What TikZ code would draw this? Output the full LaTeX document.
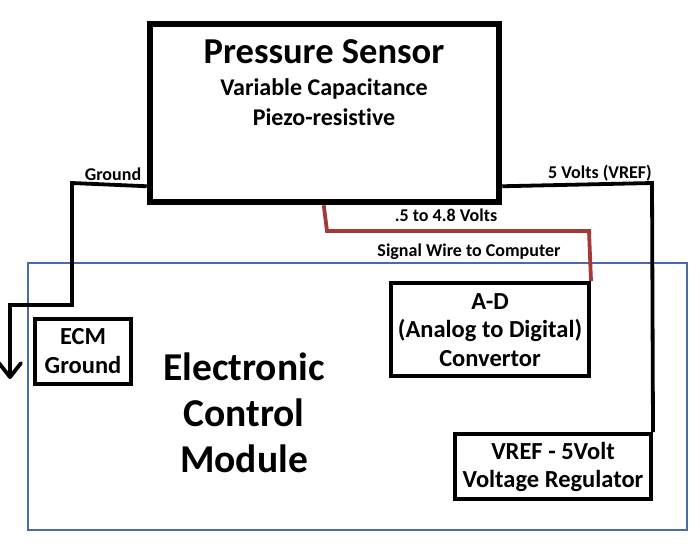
\documentclass[tikz,border=0pt]{standalone}
\usepackage{fontspec}
\setmainfont[Ligatures={NoCommon}]{Carlito}
\usetikzlibrary{arrows.meta,backgrounds}
\definecolor{ecmblue}{HTML}{4A6BA6}
\definecolor{sigred}{HTML}{A33A36}
\begin{document}
\begin{tikzpicture}[x=1pt,y=-1pt,
  box/.style={draw=black,line width=4pt,fill=white,rectangle,inner sep=0pt},
  wire/.style={draw=black,line width=3.8pt},
  lbl/.style={inner sep=0pt,font=\fontsize{18}{21}\selectfont\bfseries},
  txt/.style={inner sep=0pt,align=center,font=\fontsize{24.5}{28.5}\selectfont\bfseries}]
\useasboundingbox (0,0) rectangle (700,550);
% boxes
\node[box,line width=6.5pt,minimum width=349pt,minimum height=178pt] (ps) at (324.5,113) {};
\node[box,minimum width=198pt,minimum height=93pt] (ad) at (490,329.5) {};
\node[box,minimum width=196pt,minimum height=65pt] (vr) at (553,466.5) {};
\node[box,minimum width=96pt,minimum height=65pt] (eg) at (83,351.5) {};
\begin{scope}[on background layer]
\fill[white] (0,0) rectangle (700,550);
% module outline
\node[draw=ecmblue,line width=1.6pt,rectangle,inner sep=0pt,minimum width=659pt,minimum height=267pt] (ecm) at (357.5,396.5) {};
% wires
\coordinate (gEnd) at (10,379);
\draw[wire,-{Straight Barb[length=14pt,width=22pt,round]}] ([yshift=19pt]ps.south west) -- (72,183) -- (72,305) -- (10,305) -- (gEnd);
\draw[wire,draw=sigred] ([xshift=177pt]ps.south west) -- (327,231) -- (589,231) -- (ad.north east);
\draw[wire] ([yshift=19pt]ps.south east) -- (652,183) -- (vr.north east);
\end{scope}
% texts
\node[inner sep=0pt,font=\fontsize{36.5}{42}\selectfont\bfseries] (pst) at (324,52) {Pressure Sensor};
\node[inner sep=0pt,align=center,font=\fontsize{24}{30}\selectfont\bfseries] (pss) at (324,102) {Variable Capacitance\\Piezo-resistive};
\node[lbl,anchor=south] (glbl) at (113,181) {Ground};
\node[lbl,anchor=south] (vlbl) at (600,181) {5 Volts (VREF)};
\node[lbl] (slbl) at (446,215) {.5 to 4.8 Volts};
\node[lbl] (wlbl) at (469,252) {Signal Wire to Computer};
\node[txt] (egt) at (83,351) {ECM\\Ground};
\node[txt] (adt) at (490,330) {A-D\\(Analog to Digital)\\Convertor};
\node[txt] (vrt) at (553,467) {VREF - 5Volt\\Voltage Regulator};
\node[inner sep=0pt,align=center,font=\fontsize{39.5}{46}\selectfont\bfseries] (ecmt) at (244,413) {Electronic\\Control\\Module};
\end{tikzpicture}
\end{document}
